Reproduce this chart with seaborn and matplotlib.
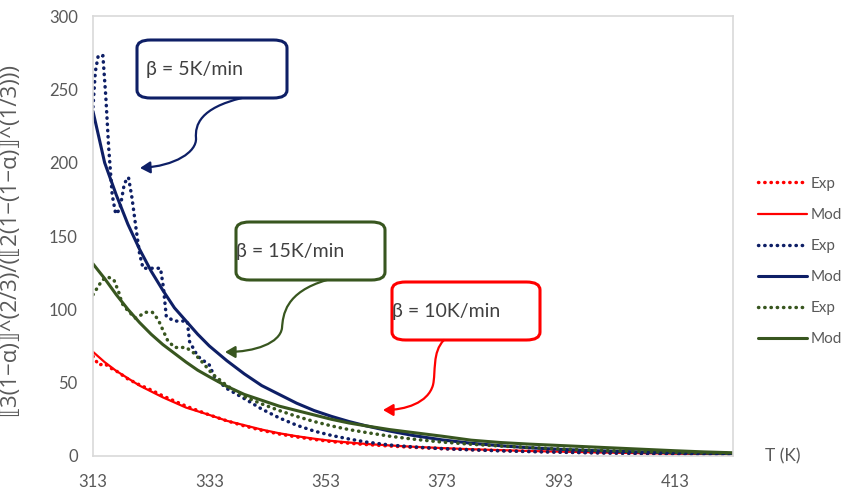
import matplotlib
matplotlib.use("Agg")
import matplotlib.pyplot as plt
import seaborn as sns
from matplotlib.patches import FancyBboxPatch, FancyArrowPatch
from matplotlib.path import Path

# --- data ---
T_mod = [313, 315, 317, 319, 321, 323, 325, 327, 329, 331, 333, 336, 339, 342, 345, 348,
         351, 354, 357, 360, 364, 368, 373, 378, 383, 388, 393, 398, 403, 408, 413, 418, 423]
mod_5 = [235, 200, 178, 158, 141, 126, 113, 101, 92, 83, 75, 65, 56, 48, 42, 36,
         31, 27, 23.5, 20.5, 17, 14, 11, 8.7, 7, 5.6, 4.6, 3.8, 3.2, 2.7, 2.3, 2.0, 1.7]
mod_15 = [131, 121, 110, 100, 91, 83, 76, 70, 64, 58.5, 54, 47.5, 42, 38, 34, 31,
          28, 25, 22.5, 20.5, 18, 16, 13.5, 10.8, 9.2, 8.1, 7.2, 6.3, 5.4, 4.5, 3.6, 2.8, 2.2]
mod_10 = [71, 64, 58, 53, 48, 44, 40, 36.5, 33, 30.5, 28, 24, 21, 18, 15.5, 13.5,
          11.8, 10.3, 9.2, 8.2, 7.2, 6.3, 5.4, 4.6, 4, 3.4, 3, 2.6, 2.2, 1.9, 1.6, 1.4, 1.2]

T_exp_5 = [313, 313.4, 313.9, 314.7, 315.2, 315.7, 316.3, 316.9, 317.6, 318.4, 319.1, 319.7,
           320.4, 321.0, 321.6, 323, 324.6, 325.1, 325.6, 327, 329.2, 329.6, 331, 333, 334,
           336, 339.5, 342, 345, 348, 351, 354, 357, 360, 364, 368, 373, 378, 383, 388,
           393, 398, 403, 408, 413, 418, 423]
exp_5 = [238, 262, 273, 273, 245, 210, 178, 165, 168, 186, 190, 176,
         155, 138, 128, 128, 128, 115, 95, 92, 92, 78, 68, 62, 53,
         46, 38, 32, 26, 21, 17, 14, 11.6, 9.5, 7.5, 6.2, 5.0, 4.2, 3.5, 3.0,
         2.6, 2.2, 1.9, 1.7, 1.5, 1.3, 1.2]

T_exp_15 = [313, 313.8, 314.6, 315.6, 316.6, 317.4, 318, 319, 320.3, 321.2, 322, 323.2,
            324.2, 325, 325.8, 327, 329, 330.4, 332, 333.5, 336, 339, 342, 345, 348,
            351, 354, 357, 360, 364, 368, 373, 378, 383, 388, 393, 398, 403, 408, 413,
            418, 423]
exp_15 = [110, 115, 120, 122, 120, 112, 104, 99, 94, 96, 98, 98,
          93, 86, 79, 74, 74, 70, 63, 56, 48, 40.5, 35.5, 31, 27,
          23.5, 20.5, 18, 16, 13.5, 11.5, 9.5, 8.0, 6.8, 5.8, 4.9, 4.1, 3.5, 3.0, 2.5,
          2.1, 1.8]

T_exp_10 = [313, 314, 315, 316, 317, 319, 321, 323, 325, 327, 329, 331, 333, 336, 339,
            342, 345, 348, 351, 354, 357, 360, 364, 368, 373, 378, 383, 388, 393, 398,
            403, 408, 413, 418, 423]
exp_10 = [68, 62, 63, 60, 58, 52.5, 48.5, 45, 41, 37.5, 34, 31, 28, 24, 20.5,
          17.5, 15, 13, 11.3, 9.8, 8.7, 7.8, 6.8, 5.9, 5.0, 4.3, 3.7, 3.2, 2.8, 2.4,
          2.1, 1.8, 1.5, 1.3, 1.1]

x_ticks = [313, 333, 353, 373, 393, 413]
y_ticks = [0, 50, 100, 150, 200, 250, 300]

RED = "#FF0000"
NAVY = "#0E1F66"
GREEN = "#38561F"
GRAY = "#595959"

sns.set_style("white")
plt.rcParams["font.family"] = ["Lato", "DejaVu Sans"]

W, H = 849, 495
fig = plt.figure(figsize=(W / 100, H / 100), dpi=100)
ax = fig.add_axes([93 / W, 1 - 456 / H, 640 / W, 440 / H])

dot = dict(linestyle=(0, (0.1, 1.7)), dash_capstyle="round", linewidth=2.5)
solid = dict(linestyle="-", linewidth=2.2)

sns.lineplot(x=T_exp_10, y=exp_10, ax=ax, color=RED, estimator=None, label="Exp", **dot)
sns.lineplot(x=T_mod, y=mod_10, ax=ax, color=RED, estimator=None, label="Mod",
             linestyle="-", linewidth=1.6)
sns.lineplot(x=T_exp_5, y=exp_5, ax=ax, color=NAVY, estimator=None, label="Exp", **dot)
sns.lineplot(x=T_mod, y=mod_5, ax=ax, color=NAVY, estimator=None, label="Mod", **solid)
sns.lineplot(x=T_exp_15, y=exp_15, ax=ax, color=GREEN, estimator=None, label="Exp", **dot)
sns.lineplot(x=T_mod, y=mod_15, ax=ax, color=GREEN, estimator=None, label="Mod", **solid)

ax.set_xlim(313, 423)
ax.set_ylim(0, 300)
ax.set_xticks(x_ticks)
ax.set_yticks(y_ticks)
ax.tick_params(axis="both", length=0, labelsize=12, colors=GRAY)
ax.tick_params(axis="y", pad=11)
ax.tick_params(axis="x", pad=13)
for s in ax.spines.values():
    s.set_color("#D9D9D9")
    s.set_linewidth(1.2)

ax.set_xlabel("")
ax.set_ylabel("⟦3(1−α)⟧^(2/3)/(⟦2(1−(1−α)⟧^(1/3)))", fontsize=16, color=GRAY,
              family=["Open Sans", "DejaVu Sans"])
ax.yaxis.set_label_coords(20 / W, 1 - 240 / H, transform=fig.transFigure)

fig.text(765 / W, 1 - 456 / H, "T (K)", fontsize=12.5, color=GRAY, va="center", ha="left")

ax.legend(loc="upper left", bbox_to_anchor=(744 / W, 1 - 163 / H),
          bbox_transform=fig.transFigure, frameon=False, fontsize=11,
          handlelength=3.2, handletextpad=0.25, labelspacing=1.12, labelcolor=GRAY)


def fx(px, py):
    return (px / W, 1 - py / H)


def box(x0, y0, x1, y1, color, text, tx):
    p = FancyBboxPatch(fx(x0, y1), (x1 - x0) / W, (y1 - y0) / H,
                       boxstyle="round,pad=0,rounding_size=0.016",
                       transform=fig.transFigure, facecolor="white",
                       edgecolor=color, linewidth=2.2, zorder=5)
    fig.add_artist(p)
    fig.text(tx / W, 1 - (y0 + y1) / 2 / H, text, fontsize=14, color="#404040",
             va="center", ha="left", zorder=6)


def arrow(pts, color):
    verts = [fx(*p) for p in pts]
    codes = [Path.MOVETO] + [Path.CURVE4] * (len(pts) - 1)
    a = FancyArrowPatch(path=Path(verts, codes), arrowstyle="-|>,head_length=6,head_width=3.5",
                        color=color, linewidth=1.6, transform=fig.transFigure, zorder=6)
    fig.add_artist(a)


box(137, 40, 287, 98, NAVY, "β = 5K/min", 146)
arrow([(242, 98), (200, 108), (195, 125), (196, 138), (197, 152), (175, 166), (140, 168)], NAVY)

box(236, 222, 385, 280, GREEN, "β = 15K/min", 236)
arrow([(327, 280), (285, 292), (283, 315), (282, 328), (280, 343), (255, 352), (225, 352)], GREEN)

box(392, 282, 540, 340, RED, "β = 10K/min", 392)
arrow([(444, 340), (432, 352), (436, 372), (433, 385), (428, 403), (405, 410), (383, 410)], RED)

fig.savefig("out.png", dpi=100)
